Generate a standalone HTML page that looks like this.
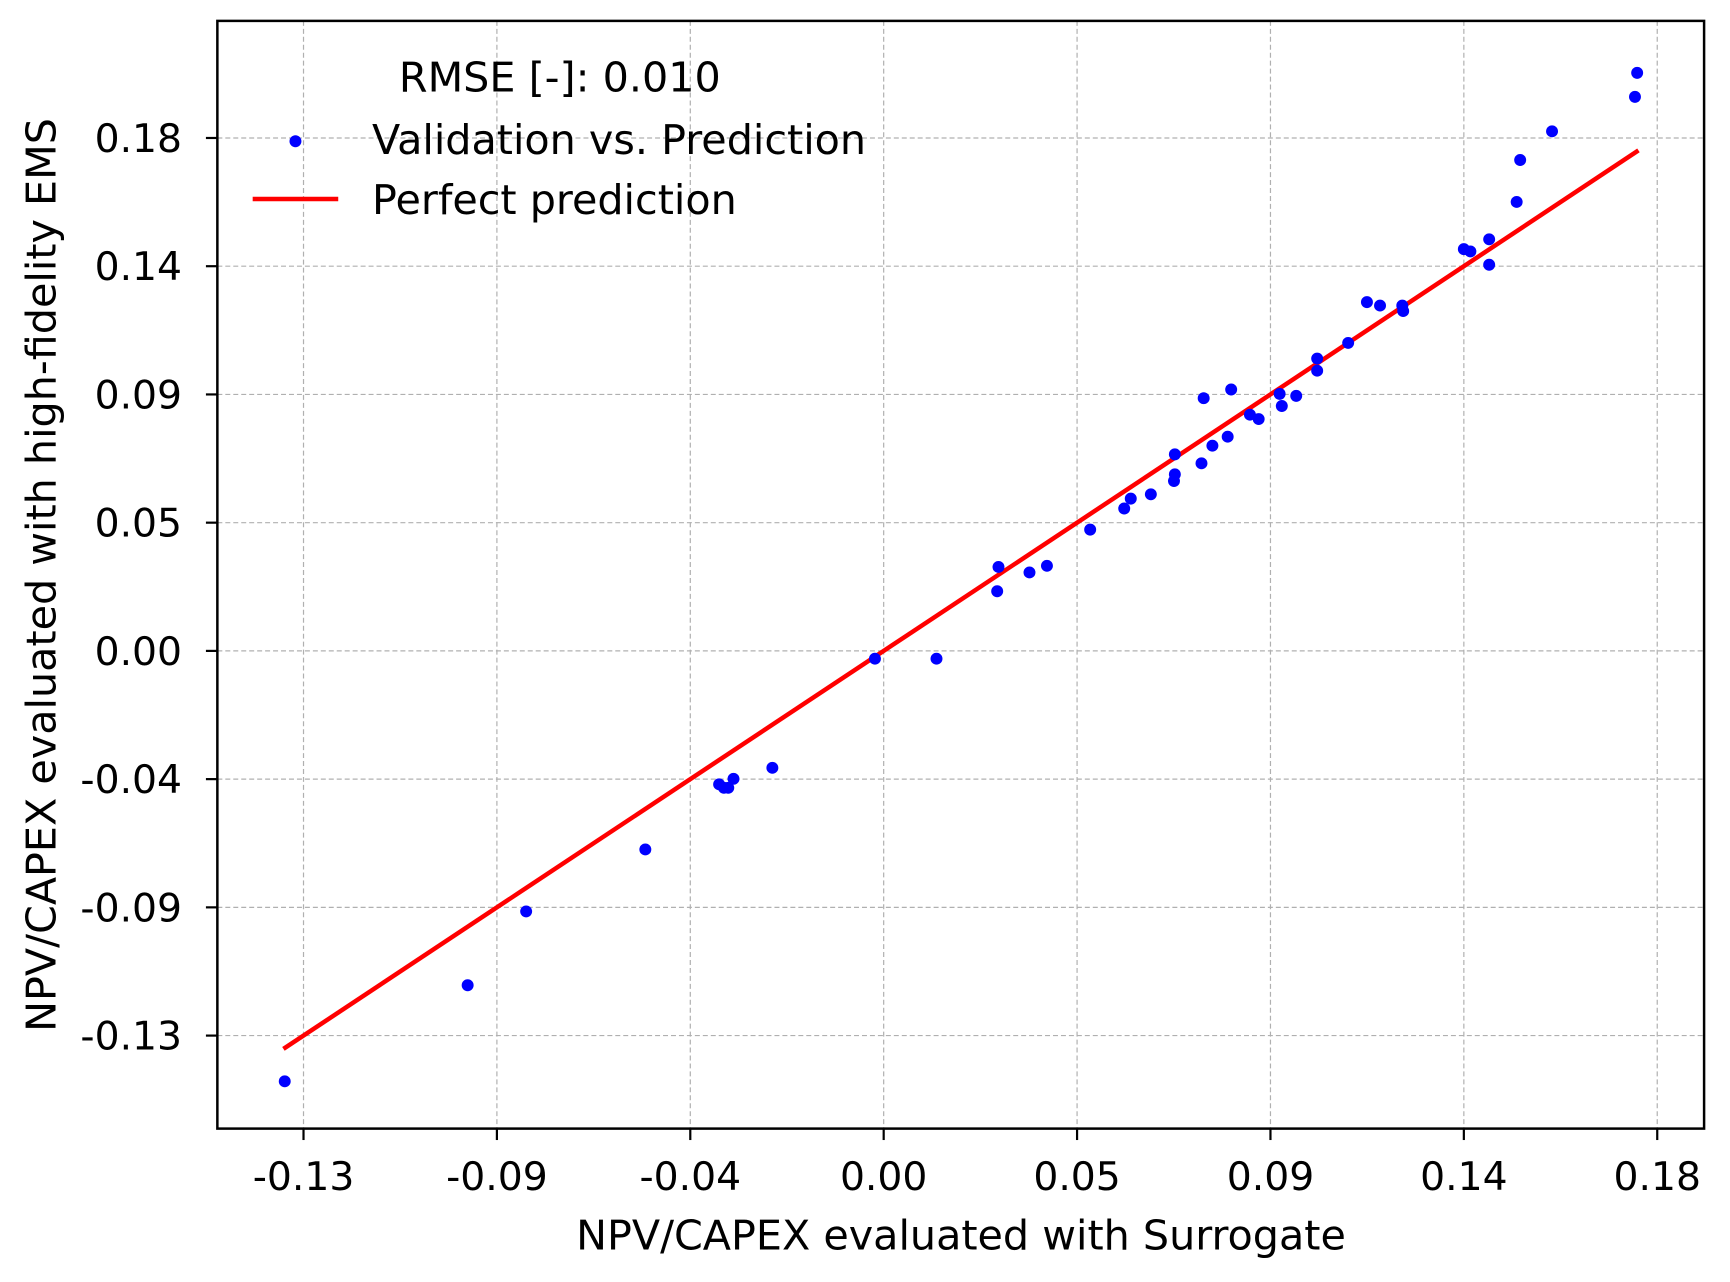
<!DOCTYPE html>
<html><head><meta charset="utf-8">
<style>
html,body{margin:0;padding:0;background:#fff;}
svg{display:block;font-family:"DejaVu Sans","Liberation Sans",sans-serif;}
</style></head>
<body>
<svg id="chart" width="1730" height="1282" viewBox="0 0 1730 1282" xmlns="http://www.w3.org/2000/svg">
<rect width="1730" height="1282" fill="#fff"/>
<g transform="scale(0.9948)">
<g id="grid"></g>
<g id="perfect"></g>
<g id="points"></g>
<rect x="218.5" y="21" width="1494.5" height="1113.5" fill="none" stroke="#000" stroke-width="2.5"/>
<g id="xticks"></g>
<g id="yticks"></g>
<text x="966" y="1256" font-size="41.5" text-anchor="middle">NPV/CAPEX evaluated with Surrogate</text>
<text x="0" y="0" font-size="41.5" text-anchor="middle" transform="translate(56,578) rotate(-90)">NPV/CAPEX evaluated with high-fidelity EMS</text>
<g>
<text x="401" y="92" font-size="41.5">RMSE [-]: 0.010</text>
<circle cx="297" cy="142" r="6" fill="#0000ff"/>
<text x="374" y="155" font-size="41.5">Validation vs. Prediction</text>
<line x1="254" y1="200" x2="340" y2="200" stroke="#ff0000" stroke-width="4.5"/>
<text x="374" y="215" font-size="41.5">Perfect prediction</text>
</g>
</g>
</svg>
<script>
const tickStep = 0.0443;
const xTickLabels = ["-0.13","-0.09","-0.04","0.00","0.05","0.09","0.14","0.18"];
const yTickLabels = ["-0.13","-0.09","-0.04","0.00","0.05","0.09","0.14","0.18"];
const tickIndex = [-3,-2,-1,0,1,2,3,4];
const lineRange = [-0.1375, 0.1729];
const surrogate = [-0.1372,-0.0953,-0.0819,-0.0546,-0.0377,-0.0366,-0.0356,-0.0344,-0.0255,-0.0020,0.0121,0.0260,0.0263,0.0334,0.0374,0.0473,0.0551,0.0566,0.0612,0.0665,0.0667,0.0667,0.0728,0.0733,0.0753,0.0788,0.0796,0.0839,0.0859,0.0907,0.0912,0.0945,0.0993,0.0993,0.1064,0.1107,0.1137,0.1188,0.1190,0.1329,0.1344,0.1387,0.1387,0.1450,0.1458,0.1531,0.1721,0.1726];
const highFidelity = [-0.1487,-0.1155,-0.0900,-0.0686,-0.0461,-0.0473,-0.0473,-0.0442,-0.0404,-0.0027,-0.0027,0.0206,0.0290,0.0271,0.0294,0.0419,0.0492,0.0526,0.0541,0.0587,0.0610,0.0679,0.0648,0.0873,0.0709,0.0740,0.0903,0.0816,0.0801,0.0888,0.0846,0.0881,0.0968,0.1010,0.1064,0.1205,0.1193,0.1193,0.1174,0.1388,0.1380,0.1422,0.1334,0.1551,0.1696,0.1795,0.1914,0.1997];

const NS = "http://www.w3.org/2000/svg";
const X = v => 888.3 + v / tickStep * 194.4;
const Y = v => 654.3 - v / tickStep * 128.9;
function mk(tag, attrs, parent){const e=document.createElementNS(NS,tag);for(const k in attrs)e.setAttribute(k,attrs[k]);parent.appendChild(e);return e;}

const grid = document.getElementById('grid');
const xt = document.getElementById('xticks');
const yt = document.getElementById('yticks');
tickIndex.forEach((t,i)=>{
  const v = t*tickStep;
  const gx = mk('line',{x1:X(v),y1:21,x2:X(v),y2:1134.5,stroke:'#b0b0b0','stroke-width':1.2,'stroke-dasharray':'5,3'},grid);
  
  
  const gy = mk('line',{x1:218.5,y1:Y(v),x2:1713,y2:Y(v),stroke:'#b0b0b0','stroke-width':1.2,'stroke-dasharray':'5,3'},grid);
  
  
  const tx = mk('line',{x1:X(v),y1:1134.5,x2:X(v),y2:1146,stroke:'#000','stroke-width':2.2},xt);
  
  
  const lx = mk('text',{x:X(v),y:1196,'font-size':39.5,'text-anchor':'middle'},xt);
  lx.textContent = xTickLabels[i];
  
  
  const ty = mk('line',{x1:207,y1:Y(v),x2:218.5,y2:Y(v),stroke:'#000','stroke-width':2.2},yt);
  
  
  const ly = mk('text',{x:183,y:Y(v)+14,'font-size':39.5,'text-anchor':'end'},yt);
  ly.textContent = yTickLabels[i];
  
  
});

const pl = mk('line',{x1:X(lineRange[0]),y1:Y(lineRange[0]),x2:X(lineRange[1]),y2:Y(lineRange[1]),stroke:'#ff0000','stroke-width':4.5},document.getElementById('perfect'));



const pts = document.getElementById('points');
surrogate.forEach((sv,i)=>{
  const c = mk('circle',{cx:X(sv),cy:Y(highFidelity[i]),r:6,fill:'#0000ff'},pts);
  
  
});
</script>
</body></html>
